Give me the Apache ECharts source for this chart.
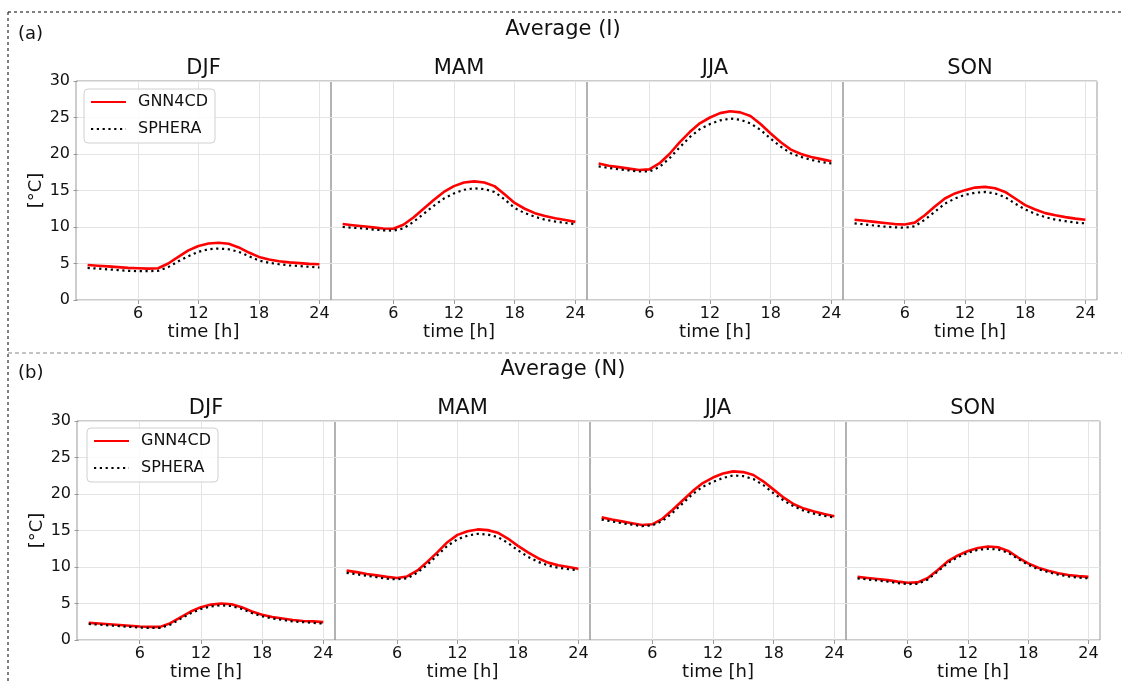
<!DOCTYPE html>
<html><head><meta charset="utf-8">
<script src="https://cdn.jsdelivr.net/npm/echarts@6/dist/echarts.min.js"></script>
<style>html,body{margin:0;padding:0;background:#fff}#c{width:1122px;height:684px}</style>
</head><body><div id="c"></div>
<script>
const hours = [1,2,3,4,5,6,7,8,9,10,11,12,13,14,15,16,17,18,19,20,21,22,23,24];
const seasons = ['DJF','MAM','JJA','SON'];
const xTicks = [6,12,18,24];
const rowTitles = ['Average (I)','Average (N)'];
const rowTags = ['(a)','(b)'];
const seriesNames = ['GNN4CD','SPHERA'];

// Row (a): Average (I)
const gnnI_DJF = [4.8,4.7,4.6,4.5,4.4,4.35,4.3,4.35,5.0,5.9,6.8,7.4,7.75,7.85,7.7,7.2,6.5,5.9,5.55,5.3,5.15,5.05,4.95,4.9];
const sphI_DJF = [4.4,4.3,4.2,4.1,4.0,3.95,3.95,4.0,4.5,5.3,6.0,6.6,6.95,7.05,6.95,6.6,6.0,5.4,5.1,4.9,4.75,4.65,4.55,4.45];
const gnnI_MAM = [10.4,10.25,10.1,9.95,9.8,9.75,10.3,11.3,12.5,13.7,14.8,15.6,16.1,16.25,16.1,15.6,14.5,13.3,12.5,11.9,11.5,11.2,10.95,10.7];
const sphI_MAM = [10.0,9.9,9.8,9.65,9.55,9.5,9.8,10.7,11.8,12.9,13.9,14.6,15.1,15.3,15.2,14.8,13.8,12.6,11.9,11.4,11.0,10.75,10.55,10.4];
const gnnI_JJA = [18.7,18.4,18.2,18.0,17.8,17.9,18.7,20.0,21.6,23.0,24.2,25.0,25.6,25.85,25.7,25.2,24.1,22.8,21.6,20.6,20.0,19.6,19.3,19.0];
const sphI_JJA = [18.3,18.1,17.9,17.75,17.6,17.6,18.2,19.4,20.9,22.3,23.4,24.1,24.6,24.85,24.7,24.2,23.3,22.1,21.0,20.1,19.6,19.2,18.9,18.7];
const gnnI_SON = [11.0,10.85,10.7,10.55,10.4,10.35,10.6,11.6,12.8,13.9,14.6,15.05,15.4,15.5,15.3,14.8,13.9,13.0,12.4,11.9,11.6,11.35,11.15,11.0];
const sphI_SON = [10.5,10.35,10.2,10.05,9.95,9.9,10.1,11.0,12.1,13.2,13.9,14.4,14.7,14.8,14.6,14.1,13.2,12.4,11.8,11.35,11.0,10.8,10.6,10.5];

// Row (b): Average (N)
const gnnN_DJF = [2.35,2.25,2.15,2.05,1.95,1.85,1.8,1.8,2.3,3.1,3.9,4.5,4.85,5.0,4.9,4.5,3.9,3.45,3.15,2.95,2.75,2.6,2.55,2.45];
const sphN_DJF = [2.2,2.1,2.0,1.9,1.8,1.7,1.65,1.65,2.1,2.9,3.65,4.25,4.6,4.75,4.65,4.25,3.7,3.25,2.95,2.75,2.55,2.45,2.35,2.25];
const gnnN_MAM = [9.5,9.3,9.05,8.85,8.65,8.5,8.7,9.5,10.7,12.0,13.4,14.4,14.9,15.15,15.05,14.7,13.9,12.9,12.0,11.2,10.6,10.25,10.0,9.75];
const sphN_MAM = [9.2,9.0,8.8,8.6,8.4,8.3,8.45,9.2,10.3,11.6,12.9,13.8,14.3,14.55,14.45,14.1,13.3,12.3,11.4,10.7,10.2,9.9,9.7,9.55];
const gnnN_JJA = [16.8,16.5,16.25,16.0,15.75,15.85,16.6,17.8,19.1,20.4,21.5,22.25,22.8,23.1,23.0,22.6,21.7,20.6,19.5,18.6,18.0,17.6,17.25,16.95];
const sphN_JJA = [16.5,16.25,16.0,15.8,15.6,15.7,16.3,17.4,18.7,20.0,21.0,21.65,22.2,22.55,22.45,22.05,21.2,20.1,19.1,18.3,17.7,17.3,17.0,16.8];
const gnnN_SON = [8.65,8.5,8.35,8.2,8.0,7.85,7.9,8.5,9.6,10.8,11.6,12.2,12.6,12.8,12.7,12.2,11.3,10.5,9.9,9.5,9.15,8.9,8.75,8.65];
const sphN_SON = [8.45,8.3,8.15,8.0,7.8,7.65,7.7,8.3,9.4,10.55,11.35,11.95,12.35,12.5,12.4,11.95,11.1,10.3,9.7,9.3,8.95,8.7,8.55,8.45];

const gnnRows = [[gnnI_DJF,gnnI_MAM,gnnI_JJA,gnnI_SON],[gnnN_DJF,gnnN_MAM,gnnN_JJA,gnnN_SON]];
const sphRows = [[sphI_DJF,sphI_MAM,sphI_JJA,sphI_SON],[sphN_DJF,sphN_MAM,sphN_JJA,sphN_SON]];

const FONT = 'DejaVu Sans';
const TXT = '#111';
const gridLefts = [[76,331,587,843],[77,335,590,846]];
const gridWidths = [[255,256,256,254],[258,255,256,254]];
const gridTops = [81,421];
const gridH = 219;

const grids = [], xAxes = [], yAxes = [], series = [], graphics = [], legends = [];
let gi = 0;
for (let r = 0; r < 2; r++) {
  for (let c = 0; c < 4; c++) {
    const left = gridLefts[r][c], width = gridWidths[r][c];
    grids.push({left: left, top: gridTops[r], width: width, height: gridH,
      show: true, borderColor: '#999', borderWidth: 1, backgroundColor: 'transparent',
      containLabel: false, outerBoundsMode: 'none'});
    xAxes.push({type: 'value', gridIndex: gi, min: -0.15, max: 25.15,
      axisLine: {show: false},
      axisTick: {show: true, length: 4, customValues: xTicks, lineStyle: {color: '#999'}},
      axisLabel: {show: true, customValues: xTicks, margin: 6, fontFamily: FONT, fontSize: 16, color: TXT},
      splitLine: {show: true, lineStyle: {color: '#e4e4e4', width: 1}},
      name: 'time [h]', nameLocation: 'middle', nameGap: 20,
      nameTextStyle: {fontFamily: FONT, fontSize: 18, color: TXT}});
    const first = c === 0;
    yAxes.push({type: 'value', gridIndex: gi, min: 0, max: 30, interval: 5,
      axisLine: {show: false},
      axisTick: {show: first, length: 4, lineStyle: {color: '#999'}},
      axisLabel: {show: first, margin: 6, fontFamily: FONT, fontSize: 16, color: TXT},
      splitLine: {show: true, lineStyle: {color: '#e4e4e4', width: 1}},
      name: first ? '[°C]' : '', nameLocation: 'middle', nameGap: 24,
      nameTextStyle: {fontFamily: FONT, fontSize: 18, color: TXT}});
    series.push({name: seriesNames[0], type: 'line', xAxisIndex: gi, yAxisIndex: gi,
      data: hours.map((h, i) => [h, gnnRows[r][c][i]]), symbol: 'none', smooth: false,
      lineStyle: {color: '#ff0000', width: 2.6}, itemStyle: {color: '#ff0000'}, z: 2});
    series.push({name: seriesNames[1], type: 'line', xAxisIndex: gi, yAxisIndex: gi,
      data: hours.map((h, i) => [h, sphRows[r][c][i]]), symbol: 'none', smooth: false,
      lineStyle: {color: '#000', width: 2.2, type: [2.2, 3.6], cap: 'butt'}, itemStyle: {color: '#000'}, z: 3});
    graphics.push({type: 'text', x: left + width / 2, y: gridTops[r] - 12,
      style: {text: seasons[c], font: '21px "DejaVu Sans"', fill: TXT, textAlign: 'center', textVerticalAlign: 'middle'}});
    gi++;
  }
  graphics.push({type: 'text', x: 563, y: 30 + 340 * r,
    style: {text: rowTitles[r], font: '21px "DejaVu Sans"', fill: TXT, textAlign: 'center', textVerticalAlign: 'middle'}});
  graphics.push({type: 'text', x: 18, y: 34 + 339 * r,
    style: {text: rowTags[r], font: '18px "DejaVu Sans"', fill: TXT, textAlign: 'left', textVerticalAlign: 'middle'}});
}
legends.push({data: seriesNames, orient: 'vertical', left: 84, top: 89});
legends.push({data: seriesNames, orient: 'vertical', left: 87, top: 428});
legends.forEach(l => Object.assign(l, {itemWidth: 35, itemHeight: 14, itemGap: 11,
  padding: [5, 7, 6, 6], backgroundColor: 'rgba(255,255,255,0.85)', borderColor: '#d0d0d0', borderWidth: 1, borderRadius: 4,
  itemStyle: {opacity: 0, borderWidth: 0},
  textStyle: {fontFamily: FONT, fontSize: 16, color: TXT, padding: [0, 0, 0, 7]}, selectedMode: false}));

// dashed frame lines
graphics.push({type: 'line', shape: {x1: 8, y1: 12, x2: 1122, y2: 12}, style: {stroke: '#000', lineWidth: 1, lineDash: [3, 3]}});
graphics.push({type: 'line', shape: {x1: 8, y1: 12, x2: 8, y2: 684}, style: {stroke: '#000', lineWidth: 1, lineDash: [3, 3]}});
graphics.push({type: 'line', shape: {x1: 8, y1: 353, x2: 1122, y2: 353}, style: {stroke: '#888', lineWidth: 1, lineDash: [4, 3]}});

const chart = echarts.init(document.getElementById('c'), null, {renderer: 'canvas'});
chart.setOption({
  animation: false, backgroundColor: '#fff',
  grid: grids, xAxis: xAxes, yAxis: yAxes, series: series, legend: legends, graphic: graphics
});
</script></body></html>
